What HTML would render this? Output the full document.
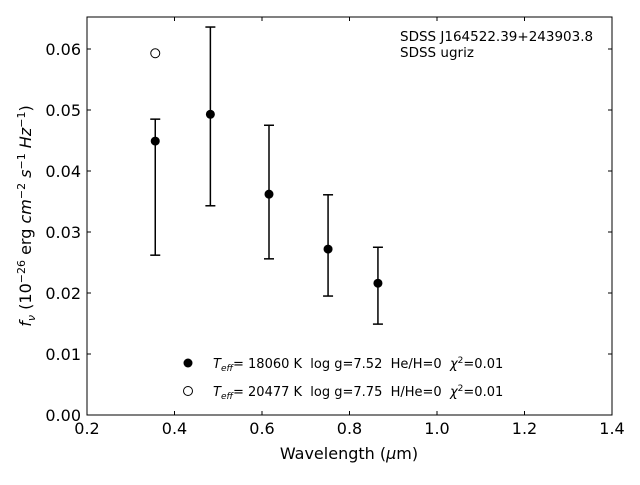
<!DOCTYPE html>
<html><head><meta charset="utf-8"><style>
body{margin:0;background:#fff}
svg text{font-family:"DejaVu Sans","Liberation Sans",sans-serif;fill:#000;white-space:pre}
</style></head><body>
<svg id="chart" width="640" height="480" xmlns="http://www.w3.org/2000/svg" xml:space="preserve">
<rect x="0" y="0" width="640" height="480" fill="#fff"/>
<g id="marks"></g>
<rect x="87" y="17" width="525" height="398" fill="none" stroke="#000" stroke-width="1"/>
<g id="axes"></g>
<text x="349" y="459" text-anchor="middle" font-size="16">Wavelength (<tspan font-style="italic">μ</tspan>m)</text>
<text transform="translate(31,216) rotate(-90)" text-anchor="middle" font-size="16"><tspan font-style="italic">f</tspan><tspan font-style="italic" font-size="11" dy="4">ν</tspan><tspan dy="-4"> (10</tspan><tspan font-size="11" dy="-6">−26</tspan><tspan dy="6"> erg </tspan><tspan font-style="italic">cm</tspan><tspan font-size="11" dy="-6">−2</tspan><tspan dy="6" font-style="italic"> s</tspan><tspan font-size="11" dy="-6">−1</tspan><tspan dy="6" font-style="italic"> Hz</tspan><tspan font-size="11" dy="-6">−1</tspan><tspan dy="6">)</tspan></text>
<text x="400" y="41" font-size="13.5">SDSS J164522.39+243903.8</text>
<text x="400" y="57" font-size="13.5">SDSS ugriz</text>
<g>
<circle cx="188" cy="363" r="4.5" fill="#000"/>
<text x="213" y="368" font-size="13"><tspan font-style="italic">T</tspan><tspan font-style="italic" font-size="9" dy="3">eff</tspan><tspan dy="-3">= 18060 K  log g=7.52  He/H=0  </tspan><tspan font-style="italic">χ</tspan><tspan font-size="9" dy="-5">2</tspan><tspan dy="5">=0.01</tspan></text>
<circle cx="188" cy="391" r="4.5" fill="#fff" stroke="#000"/>
<text x="213" y="396" font-size="13"><tspan font-style="italic">T</tspan><tspan font-style="italic" font-size="9" dy="3">eff</tspan><tspan dy="-3">= 20477 K  log g=7.75  H/He=0  </tspan><tspan font-style="italic">χ</tspan><tspan font-size="9" dy="-5">2</tspan><tspan dy="5">=0.01</tspan></text>
</g>
</svg>
<script>
const wavelengths=[0.356,0.482,0.616,0.751,0.865];
const fluxes=[0.0449,0.0493,0.0362,0.0272,0.0216];
const errHigh=[0.0485,0.0636,0.0475,0.0361,0.0275];
const errLow=[0.0262,0.0343,0.0256,0.0195,0.0149];
const modelWavelengths=[0.356];
const modelFluxes=[0.0593];
const xTicks=[0.2,0.4,0.6,0.8,1.0,1.2,1.4];
const xTickLabels=["0.2","0.4","0.6","0.8","1.0","1.2","1.4"];
const yTicks=[0,0.01,0.02,0.03,0.04,0.05,0.06];
const yTickLabels=["0.00","0.01","0.02","0.03","0.04","0.05","0.06"];
const NS="http://www.w3.org/2000/svg";
const X=v=>87+(v-0.2)/1.2*525;
const Y=v=>415-v*6100;
function mk(tag,attrs,parent){const e=document.createElementNS(NS,tag);for(const k in attrs)e.setAttribute(k,attrs[k]);parent.appendChild(e);return e;}
const marks=document.getElementById('marks'),axes=document.getElementById('axes');
xTicks.forEach((t,i)=>{
 const x=X(t);
 let l=mk('line',{x1:x,x2:x,y1:415,y2:411,stroke:'#000'},axes);
 
 
 l=mk('line',{x1:x,x2:x,y1:17,y2:21,stroke:'#000'},axes);
 
 
 const tx=mk('text',{x:x,y:434,'text-anchor':'middle','font-size':16},axes);
 tx.textContent=xTickLabels[i];
 
 
});
yTicks.forEach((t,i)=>{
 const y=Y(t);
 let l=mk('line',{x1:87,x2:91,y1:y,y2:y,stroke:'#000'},axes);
 
 
 l=mk('line',{x1:608,x2:612,y1:y,y2:y,stroke:'#000'},axes);
 
 
 const tx=mk('text',{x:81,y:y+6,'text-anchor':'end','font-size':16},axes);
 tx.textContent=yTickLabels[i];
 
 
});
wavelengths.forEach((w,i)=>{
 const x=X(w);
 const g=mk('g',{stroke:'#000','stroke-width':1.5},marks);
 
 
 mk('line',{x1:x,x2:x,y1:Y(errHigh[i]),y2:Y(errLow[i])},g);
 mk('line',{x1:x-5,x2:x+5,y1:Y(errHigh[i]),y2:Y(errHigh[i])},g);
 mk('line',{x1:x-5,x2:x+5,y1:Y(errLow[i]),y2:Y(errLow[i])},g);
 const c=mk('circle',{cx:x,cy:Y(fluxes[i]),r:4.5,fill:'#000'},marks);
 
 
});
modelWavelengths.forEach((w,i)=>{
 const c=mk('circle',{cx:X(w),cy:Y(modelFluxes[i]),r:4.5,fill:'#fff',stroke:'#000'},marks);
 
 
});
</script>
</body></html>
